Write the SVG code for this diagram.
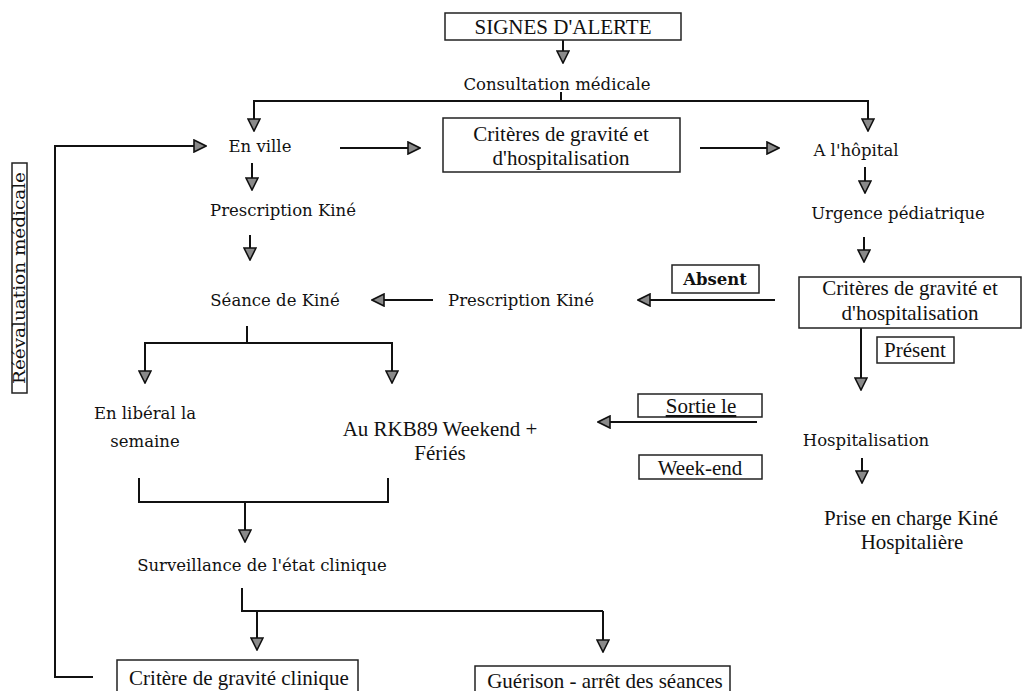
<svg xmlns="http://www.w3.org/2000/svg" width="1023" height="691" viewBox="0 0 1023 691">
<defs>
<style>
.t{font-family:"Liberation Serif","Times New Roman",serif;font-size:21px;fill:#111;text-anchor:middle}
.w{font-family:"DejaVu Serif","Liberation Serif",serif;font-size:16.5px;fill:#111;text-anchor:middle}
.b{fill:#fff;stroke:#222;stroke-width:1.5}
.c{fill:none;stroke:#111;stroke-width:2}
.a{marker-end:url(#ah)}
</style>
<marker id="ah" viewBox="0 0 14 14" refX="13" refY="7" markerWidth="14" markerHeight="14" markerUnits="userSpaceOnUse" orient="auto">
<path d="M1,1 L13,7 L1,13 z" fill="#8a8a8a" stroke="#111" stroke-width="1.6"/>
</marker>
</defs>
<rect width="1023" height="691" fill="#fff"/>
<g id="connectors">
<path class="c a" d="M563,40 V63"/>
<path class="c" d="M561,92 V101"/>
<path class="c a" d="M561,101 H254 V131"/>
<path class="c a" d="M561,101 H868 V131"/>
<path class="c a" d="M93,677 H55 V146 H206"/>
<path class="c a" d="M340,148 H420"/>
<path class="c a" d="M700,148 H779"/>
<path class="c a" d="M252,163 V190"/>
<path class="c a" d="M250,235 V260"/>
<path class="c a" d="M433,300 H372"/>
<path class="c" d="M247,326 V343"/>
<path class="c a" d="M247,343 H145 V383"/>
<path class="c a" d="M247,343 H392 V383"/>
<path class="c a" d="M865,167 V193"/>
<path class="c a" d="M864,237 V262"/>
<path class="c a" d="M775,300 H638"/>
<path class="c a" d="M861,328 V390"/>
<path class="c a" d="M757,422 H598"/>
<path class="c a" d="M862,458 V483"/>
<path class="c" d="M139,478 V502 H388 V478"/>
<path class="c a" d="M245,502 V542"/>
<path class="c" d="M242,588 V611 H603"/>
<path class="c a" d="M603,611 V652"/>
<path class="c a" d="M257,611 V650"/>
</g>
<g id="signes"><rect class="b" x="445" y="13" width="236" height="27"/><text class="t" x="563" y="34">SIGNES D'ALERTE</text></g>
<g id="consultation"><text class="w" x="557" y="90">Consultation médicale</text></g>
<g id="enville"><text class="w" x="260" y="152">En ville</text></g>
<g id="criteres1"><rect class="b" x="443" y="118" width="237" height="54"/><text class="t" x="561" y="141" font-size="20">Critères de gravité et</text><text class="t" x="561" y="165" font-size="20">d'hospitalisation</text></g>
<g id="hopital"><text class="w" x="856" y="156">A l'hôpital</text></g>
<g id="prescription1"><text class="w" x="283" y="216">Prescription Kiné</text></g>
<g id="urgence"><text class="w" x="898" y="219">Urgence pédiatrique</text></g>
<g id="seance"><text class="w" x="275" y="306">Séance de Kiné</text></g>
<g id="prescription2"><text class="w" x="521" y="306">Prescription Kiné</text></g>
<g id="absent"><rect class="b" x="672" y="265" width="87" height="28"/><text class="w" x="715" y="285" font-weight="bold" font-size="15.5">Absent</text></g>
<g id="criteres2"><rect class="b" x="799" y="277" width="222" height="51"/><text class="t" x="910" y="295">Critères de gravité et</text><text class="t" x="910" y="320">d'hospitalisation</text></g>
<g id="present"><rect class="b" x="877" y="337" width="77" height="26"/><text class="t" x="915" y="357">Présent</text></g>
<g id="liberal"><text class="w" x="145" y="419">En libéral la</text><text class="w" x="145" y="447">semaine</text></g>
<g id="rkb"><text class="t" x="440" y="436">Au RKB89 Weekend +</text><text class="t" x="440" y="460">Fériés</text></g>
<g id="sortie"><rect class="b" x="638" y="394" width="124" height="23"/><text class="t" x="701" y="413" text-decoration="underline">Sortie le</text></g>
<g id="weekend"><rect class="b" x="639" y="455" width="123" height="24"/><text class="t" x="700" y="475">Week-end</text></g>
<g id="hospitalisation"><text class="w" x="866" y="446">Hospitalisation</text></g>
<g id="prise"><text class="t" x="911" y="525">Prise en charge Kiné</text><text class="t" x="912" y="549">Hospitalière</text></g>
<g id="surveillance"><text class="w" x="262" y="571">Surveillance de l'état clinique</text></g>
<g id="critere_clinique"><rect class="b" x="117" y="660" width="241" height="34"/><text class="t" x="239" y="685">Critère de gravité clinique</text></g>
<g id="guerison"><rect class="b" x="475" y="666" width="255" height="30"/><text class="t" x="605" y="688">Guérison - arrêt des séances</text></g>
<g id="reevaluation"><rect class="b" x="12" y="163" width="15" height="230"/><text class="w" transform="translate(24.5,278) rotate(-90)" x="0" y="0" font-size="14.5" textLength="212" lengthAdjust="spacingAndGlyphs">Réévaluation médicale</text></g>
</svg>
